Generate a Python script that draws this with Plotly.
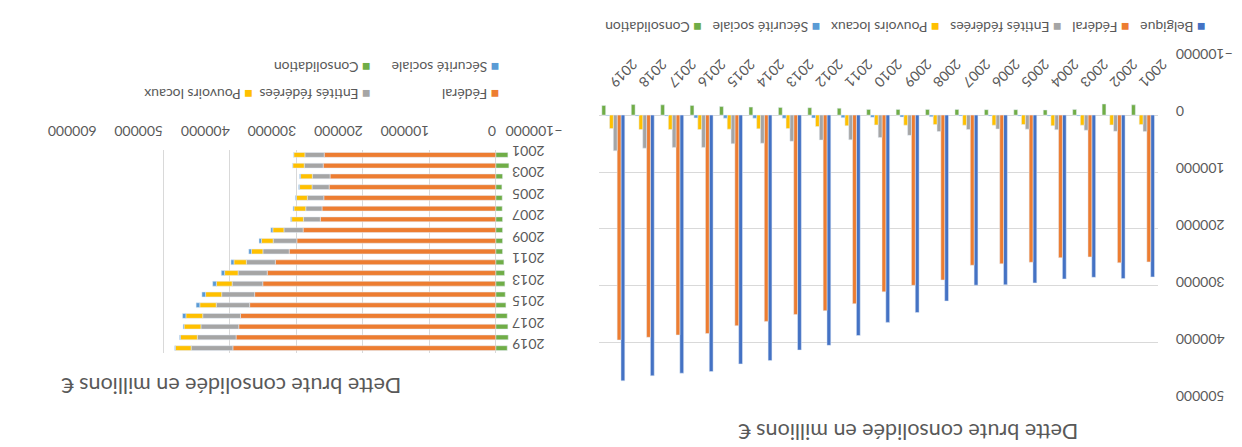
import plotly.graph_objects as go

# Dette brute consolidée de la Belgique par sous-secteur (millions €)
years = list(range(2001, 2020))
belgique = [284400, 287300, 285000, 287900, 294800, 298300, 298800, 326600, 346800, 364200,
            387300, 404600, 412800, 431400, 437200, 450600, 453500, 458100, 466900]
federal = [258000, 259500, 249200, 250600, 258600, 261300, 263800, 289700, 299100, 310600,
           331400, 343600, 350300, 362500, 370000, 383700, 386400, 390400, 395200]
entites = [29000, 28500, 26600, 25700, 24700, 24400, 25400, 28800, 35600, 39500,
           43500, 43800, 46000, 49500, 50200, 56800, 56800, 58200, 62700]
locaux = [16700, 17200, 17700, 18700, 16500, 17700, 17700, 16700, 17700, 17200,
          18700, 20200, 23700, 24200, 24700, 25300, 25300, 25300, 23700]
secu = [500, 500, 1500, 1500, 1500, 1500, 1500, 3000, 3500, 4000,
        4500, 5000, 5500, 5500, 5500, 5000, 1500, 1500, 1000]
consolidation = [-18000, -19500, -10000, -9000, -9500, -9500, -10000, -10000, -10000, -10000,
                 -12000, -13000, -13500, -14000, -15000, -17000, -18000, -18500, -17000]

TITLE = "Dette brute consolidée en millions €"
FONT = "Lato"
GREY_TXT = "#595959"
GRID = "#D9D9D9"

series = [
    ("Belgique", belgique, "#4472C4"),
    ("Fédéral", federal, "#ED7D31"),
    ("Entités fédérées", entites, "#A5A5A5"),
    ("Pouvoirs locaux", locaux, "#FFC000"),
    ("Sécurité sociale", secu, "#5B9BD5"),
    ("Consolidation", consolidation, "#70AD47"),
]
colors = {name: c for name, _, c in series}

W, H = 1242, 447


def fx(p):
    return p / W


def fy(p):
    return 1 - p / H


fig = go.Figure()

# Clustered columns, one group per year
for name, vals, col in series:
    fig.add_trace(go.Bar(x=years, y=vals, name=name, marker_color=col,
                         xaxis="x", yaxis="y", showlegend=False))

# Stacked horizontal bars (components only)
base_e = [a for a in federal]
base_p = [a + b for a, b in zip(federal, entites)]
base_s = [a + b + c for a, b, c in zip(federal, entites, locaux)]
stack = [
    ("Fédéral", federal, [0] * len(years)),
    ("Entités fédérées", entites, base_e),
    ("Pouvoirs locaux", locaux, base_p),
    ("Sécurité sociale", secu, base_s),
    ("Consolidation", consolidation, [0] * len(years)),
]
for name, vals, base in stack:
    fig.add_trace(go.Bar(y=years, x=vals, base=base, orientation="h", name=name,
                         marker_color=colors[name], offsetgroup="stack", width=0.45,
                         xaxis="x2", yaxis="y2", showlegend=False))

tick_font = dict(family=FONT, size=14, color=GREY_TXT)


def flipped_text(text, x, y, size, xanchor="center"):
    return dict(text=text, x=fx(x), y=fy(y), xref="paper", yref="paper", showarrow=False,
                textangle=180, xanchor=xanchor, yanchor="middle",
                font=dict(family=FONT, size=size, color=GREY_TXT))


def key(name):
    return f"<span style='color:{colors[name]}'>■</span> {name}"


annotations = [
    flipped_text(TITLE, 903, 436, 21.5),
    flipped_text(TITLE, 191, 389, 21.5),
    # legend of the clustered chart: one row
    flipped_text("&nbsp;&nbsp;&nbsp;".join(key(n) for n, _, _ in series), 900, 16, 14),
]

# legend of the stacked chart: two rows in three columns
legend_b = [("Fédéral", 476, 86), ("Entités fédérées", 340, 86), ("Pouvoirs locaux", 216, 86),
            ("Sécurité sociale", 476, 57), ("Consolidation", 340, 57)]
for name, rx, cy in legend_b:
    annotations.append(flipped_text(key(name), rx, cy, 14, xanchor="right"))

fig.update_layout(
    width=W, height=H,
    margin=dict(l=0, r=0, t=0, b=0),
    paper_bgcolor="white", plot_bgcolor="white",
    barmode="group", bargap=0.22, bargroupgap=0,
    font=dict(family=FONT, color=GREY_TXT),
    xaxis=dict(domain=[fx(578), fx(1166)], range=[2019.5, 2000.5], anchor="free",
               position=fy(108), side="top", tickmode="array", tickvals=years,
               tickangle=135, showgrid=False, showline=False, zeroline=False, ticks="",
               ticklabelstandoff=20, tickfont=tick_font),
    yaxis=dict(domain=[fy(403), fy(48)], range=[500001, -100001], dtick=100000, tick0=0,
               side="left", anchor="free", position=fx(1185), tickangle=180,
               gridcolor=GRID, zeroline=False, showline=False, tickformat="d",
               tickfont=tick_font, ticks=""),
    xaxis2=dict(domain=[fx(50), fx(540)], range=[600001, -100001], dtick=100000, tick0=0,
                side="top", anchor="y2", tickangle=180, gridcolor=GRID, zeroline=False,
                showline=False, tickformat="d", tickfont=tick_font, ticks="",
                ticklabelstandoff=6),
    yaxis2=dict(domain=[fy(355), fy(143)], range=[2019.5, 2000.5], tickmode="array",
                tickvals=years[::2], tickangle=180, anchor="free", position=fx(487),
                side="left", showgrid=False, zeroline=False, showline=False, ticks="",
                tickfont=tick_font),
    annotations=annotations,
)

fig.write_html("out.html")
